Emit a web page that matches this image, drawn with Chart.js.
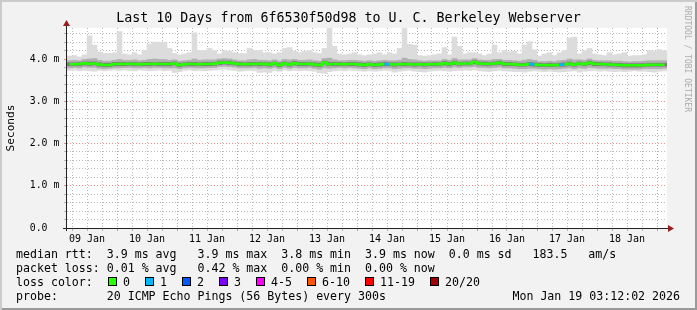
<!DOCTYPE html>
<html>
<head>
<meta charset="utf-8">
<script src="https://cdn.jsdelivr.net/npm/chart.js@4.4.1/dist/chart.umd.min.js"></script>
<style>
  html, body { margin: 0; padding: 0; background: #fff; }
  #graph { position: relative; width: 697px; height: 310px; background: #f2f2f2; overflow: hidden;
           box-shadow: inset 2px 2px 0 #cbcbcb, inset -2px -2px 0 #9a9a9a;
           font-family: 'DejaVu Sans Mono', monospace; color: #000; }
  #graph canvas { position: absolute; left: 0; top: 0; }
  .txt { position: absolute; white-space: pre; font-size: 11.6px; line-height: 14px; z-index: 2; }
  #title { left: 0; width: 697px; text-align: center; top: 10.4px; font-size: 13.3px; line-height: 16px; }
  #mark { left: 686.5px; top: 58.5px; font-size: 8px; line-height: 10px; color: #ababab;
          transform: translate(-50%, -50%) rotate(90deg); }
  .box { position: absolute; width: 9px; height: 9px; border: 1px solid #000; box-sizing: border-box; top: 277px; z-index: 2; }
</style>
</head>
<body>
<div id="graph">
  <canvas id="myChart" width="697" height="310"></canvas>
  <div class="txt" id="title">Last 10 Days from 6f6530f50d98 to U. C. Berkeley Webserver</div>
  <div class="txt" id="mark">RRDTOOL / TOBI OETIKER</div>
  <div class="txt" style="left:16px; top:246.6px">median rtt:  3.9 ms avg   3.9 ms max  3.8 ms min  3.9 ms now  0.0 ms sd   183.5   am/s</div>
  <div class="txt" style="left:16px; top:260.6px">packet loss: 0.01 % avg   0.42 % max  0.00 % min  0.00 % now</div>
  <div class="txt" style="left:16px; top:274.6px">loss color:</div>
  <div class="txt" style="left:16px; top:288.6px">probe:       20 ICMP Echo Pings (56 Bytes) every 300s</div>
  <div class="txt" style="right:17px; top:288.6px">Mon Jan 19 03:12:02 2026</div>
</div>
<script>
// 10 days, one bin every 2 hours (120 bins), values in ms
const binHours = 2;
const dayLabels = ['09 Jan', '10 Jan', '11 Jan', '12 Jan', '13 Jan', '14 Jan', '15 Jan', '16 Jan', '17 Jan', '18 Jan'];
const yTickValues = [0, 0.2, 0.4, 0.6, 0.8, 1, 1.2, 1.4, 1.6, 1.8, 2, 2.2, 2.4, 2.6, 2.8, 3, 3.2, 3.4, 3.6, 3.8, 4, 4.2, 4.4, 4.6];
const yMajorLabels = ['0.0  ', '1.0 m', '2.0 m', '3.0 m', '4.0 m'];

const lossLabels = ['0', '1', '2', '3', '4-5', '6-10', '11-19', '20/20'];
const lossColors = ['#26ff00', '#00b8ff', '#0059ff', '#7e00ff', '#ff00ff', '#ff5500', '#ff0000', '#a00000'];

const pingMax = [4.07,4.08,4.05,4.10,4.55,4.33,4.17,4.13,4.13,4.15,
    4.65,4.12,4.10,4.15,4.10,4.20,4.35,4.40,4.40,4.40,
    4.25,4.13,4.10,4.12,4.15,4.62,4.20,4.20,4.25,4.20,
    4.12,4.20,4.18,4.15,4.13,4.13,4.25,4.20,4.20,4.15,
    4.15,4.12,4.15,4.25,4.27,4.18,4.15,4.18,4.20,4.15,
    4.13,4.25,4.73,4.30,4.12,4.10,4.12,4.15,4.10,4.08,
    4.10,4.12,4.15,4.10,4.15,4.12,4.25,4.75,4.35,4.33,
    4.08,4.07,4.08,4.10,4.12,4.27,4.10,4.52,4.30,4.12,
    4.15,4.15,4.12,4.08,4.12,4.33,4.15,4.20,4.17,4.18,
    4.12,4.33,4.41,4.22,4.07,4.12,4.15,4.08,4.15,4.20,
    4.50,4.52,4.12,4.20,4.25,4.12,4.10,4.08,4.15,4.10,
    4.12,4.15,4.07,4.08,4.08,4.10,4.20,4.18,4.22,4.20];

const pingP80 = [3.96,3.97,3.96,3.99,4.00,4.01,3.97,3.95,3.95,3.97,
    3.99,3.97,3.97,3.98,3.96,3.97,3.99,4.00,3.99,3.99,
    3.97,3.98,3.95,3.96,3.97,4.00,3.97,3.98,3.98,3.98,
    4.00,4.01,4.00,3.98,3.96,3.96,3.98,3.99,3.97,3.97,
    3.96,3.98,3.95,3.99,3.98,3.99,3.97,3.97,3.98,3.96,
    3.95,4.01,4.02,3.98,3.96,3.96,3.97,3.97,3.96,3.95,
    3.96,3.95,3.96,3.97,3.96,3.96,3.97,4.02,3.99,3.98,
    3.96,3.95,3.96,3.96,3.96,3.99,3.97,4.01,3.98,3.98,
    3.98,4.01,3.98,3.97,3.97,3.99,3.99,3.97,3.97,3.96,
    3.95,3.97,3.99,3.97,3.94,3.94,3.95,3.94,3.96,3.97,
    4.00,3.98,3.98,3.97,4.00,3.97,3.96,3.96,3.96,3.95,
    3.95,3.94,3.93,3.94,3.94,3.95,3.96,3.96,3.96,3.96];

const pingP65 = [3.91,3.91,3.92,3.93,3.93,3.93,3.91,3.90,3.90,3.92,
    3.92,3.92,3.92,3.92,3.91,3.92,3.92,3.92,3.92,3.92,
    3.92,3.93,3.90,3.91,3.92,3.92,3.91,3.92,3.92,3.92,
    3.95,3.95,3.95,3.93,3.92,3.91,3.92,3.92,3.92,3.92,
    3.91,3.93,3.90,3.93,3.91,3.94,3.92,3.92,3.92,3.91,
    3.90,3.95,3.92,3.92,3.92,3.91,3.92,3.92,3.91,3.90,
    3.91,3.90,3.91,3.92,3.91,3.91,3.91,3.92,3.91,3.91,
    3.91,3.91,3.91,3.92,3.91,3.94,3.92,3.95,3.92,3.93,
    3.93,3.96,3.93,3.93,3.92,3.93,3.95,3.92,3.92,3.91,
    3.90,3.90,3.92,3.91,3.90,3.89,3.90,3.89,3.90,3.91,
    3.93,3.90,3.93,3.91,3.95,3.92,3.92,3.91,3.91,3.90,
    3.90,3.89,3.89,3.89,3.89,3.89,3.90,3.90,3.90,3.90];

const medianRtt = [3.875,3.875,3.88,3.90,3.89,3.895,3.87,3.86,3.86,3.88,
    3.88,3.88,3.885,3.88,3.875,3.88,3.88,3.885,3.88,3.88,
    3.88,3.895,3.86,3.875,3.88,3.88,3.875,3.88,3.88,3.885,
    3.91,3.92,3.91,3.895,3.88,3.875,3.88,3.885,3.88,3.885,
    3.87,3.90,3.86,3.895,3.87,3.90,3.88,3.88,3.885,3.87,
    3.86,3.92,3.875,3.88,3.88,3.875,3.88,3.88,3.87,3.86,
    3.875,3.86,3.87,3.88,3.875,3.87,3.875,3.88,3.875,3.87,
    3.875,3.87,3.875,3.88,3.875,3.90,3.88,3.91,3.885,3.895,
    3.895,3.93,3.895,3.89,3.885,3.895,3.91,3.88,3.88,3.875,
    3.865,3.865,3.88,3.87,3.86,3.855,3.86,3.855,3.865,3.87,
    3.89,3.865,3.895,3.875,3.91,3.88,3.88,3.875,3.87,3.865,
    3.86,3.85,3.85,3.85,3.85,3.855,3.865,3.865,3.865,3.865];

const pingP35 = [3.84,3.84,3.84,3.86,3.85,3.86,3.83,3.82,3.82,3.84,
    3.84,3.84,3.85,3.84,3.84,3.84,3.84,3.85,3.84,3.84,
    3.84,3.86,3.82,3.84,3.84,3.84,3.84,3.84,3.84,3.85,
    3.87,3.88,3.87,3.86,3.84,3.84,3.84,3.85,3.84,3.85,
    3.83,3.86,3.82,3.86,3.83,3.86,3.84,3.84,3.85,3.83,
    3.82,3.88,3.84,3.84,3.84,3.84,3.84,3.84,3.83,3.82,
    3.84,3.82,3.83,3.84,3.84,3.83,3.84,3.84,3.84,3.83,
    3.84,3.83,3.84,3.84,3.84,3.86,3.84,3.87,3.85,3.86,
    3.86,3.89,3.86,3.85,3.85,3.86,3.87,3.84,3.84,3.84,
    3.83,3.83,3.84,3.83,3.82,3.82,3.82,3.82,3.83,3.83,
    3.85,3.83,3.86,3.84,3.87,3.84,3.84,3.84,3.83,3.83,
    3.82,3.81,3.81,3.81,3.81,3.82,3.83,3.83,3.83,3.83];

const pingP20 = [3.79,3.80,3.79,3.81,3.80,3.80,3.78,3.77,3.78,3.79,
    3.79,3.80,3.80,3.79,3.79,3.80,3.79,3.80,3.80,3.79,
    3.79,3.79,3.77,3.79,3.80,3.79,3.79,3.79,3.80,3.80,
    3.82,3.83,3.82,3.81,3.79,3.79,3.79,3.80,3.78,3.79,
    3.78,3.80,3.77,3.80,3.78,3.80,3.79,3.79,3.80,3.78,
    3.76,3.79,3.78,3.79,3.80,3.79,3.80,3.79,3.78,3.77,
    3.79,3.77,3.78,3.79,3.79,3.77,3.78,3.79,3.79,3.78,
    3.78,3.77,3.78,3.79,3.79,3.80,3.79,3.81,3.80,3.81,
    3.81,3.82,3.80,3.80,3.79,3.80,3.81,3.79,3.79,3.78,
    3.77,3.77,3.78,3.78,3.77,3.76,3.77,3.76,3.77,3.78,
    3.79,3.77,3.79,3.78,3.80,3.79,3.78,3.78,3.78,3.77,
    3.77,3.76,3.76,3.76,3.76,3.77,3.77,3.77,3.77,3.78];

const pingMin = [3.73,3.74,3.72,3.73,3.72,3.71,3.73,3.72,3.73,3.74,
    3.73,3.74,3.73,3.72,3.74,3.73,3.72,3.73,3.74,3.72,
    3.73,3.68,3.70,3.73,3.74,3.72,3.73,3.72,3.73,3.74,
    3.75,3.76,3.74,3.73,3.71,3.72,3.73,3.72,3.68,3.69,
    3.68,3.72,3.71,3.74,3.72,3.73,3.72,3.73,3.72,3.71,
    3.67,3.66,3.70,3.72,3.73,3.72,3.74,3.73,3.72,3.71,
    3.72,3.71,3.72,3.73,3.72,3.69,3.71,3.72,3.73,3.71,
    3.70,3.69,3.71,3.72,3.73,3.72,3.71,3.72,3.73,3.74,
    3.73,3.74,3.72,3.71,3.70,3.72,3.73,3.72,3.71,3.70,
    3.70,3.69,3.71,3.72,3.71,3.70,3.71,3.70,3.69,3.70,
    3.71,3.72,3.69,3.71,3.72,3.73,3.71,3.72,3.71,3.70,
    3.71,3.70,3.71,3.72,3.71,3.71,3.70,3.69,3.71,3.72];

// lost pings (out of 20) per bin, mostly none
const lossCount = [0,0,0,0,0,0,0,0,0,0, 0,0,0,0,0,0,0,0,0,0,
    0,0,0,0,0,0,0,0,0,0, 0,0,0,0,0,0,0,0,0,0,
    0,0,0,0,0,0,0,0,0,0, 0,0,0,0,0,0,0,0,0,0,
    0,0,0,1,0,0,0,0,0,0, 0,0,0,0,0,0,0,0,0,0,
    0,0,0,0,0,0,0,0,0,0, 0,0,1,0,0,0,0,0,1,0,
    0,0,0,0,0,0,0,0,0,0, 0,0,0,0,0,0,0,0,0,0];

// legend box positions (px)
const lossBoxX = [108, 145, 182, 219, 256, 307, 365, 430];

const graph = document.getElementById('graph');
lossLabels.forEach(function(lbl, i) {
    var b = document.createElement('div');
    b.className = 'box';
    b.style.left = lossBoxX[i] + 'px';
    b.style.background = lossColors[i];
    graph.appendChild(b);
    var t = document.createElement('div');
    t.className = 'txt';
    t.style.left = (lossBoxX[i] + 15) + 'px';
    t.style.top = '274.6px';
    t.textContent = lbl;
    graph.appendChild(t);
});

function lossColorIndex(n) {
    if (n <= 3) return n;
    if (n <= 5) return 4;
    if (n <= 10) return 5;
    if (n <= 19) return 6;
    return 7;
}

function band(lo, hi) {
    return lo.map(function(v, i) { return {x: i * binHours + binHours / 2, y: [v, hi[i]]}; });
}

var xGridHours = [];
for (var h = 2; h < 240; h += 6) xGridHours.push(h);

const MONO = 'DejaVu Sans Mono';
const GRID_MINOR = 'rgba(140,140,140,0.6)';
const GRID_MAJOR = 'rgba(225,70,70,0.6)';

const rrdFrame = {
    id: 'rrdFrame',
    beforeDraw(chart) {
        const {ctx, chartArea: a} = chart;
        ctx.save();
        ctx.fillStyle = '#ffffff';
        ctx.fillRect(a.left, a.top, a.right - a.left, a.bottom - a.top);
        ctx.restore();
    },
    afterDatasetsDraw(chart) {
        const {ctx, chartArea: a} = chart;
        const ax = a.left - 0.5, ay = a.bottom + 0.5;
        ctx.save();
        ctx.strokeStyle = '#222222';
        ctx.lineWidth = 1;
        ctx.beginPath();
        ctx.moveTo(a.left - 4, ay); ctx.lineTo(a.right + 2, ay);
        ctx.moveTo(ax, a.bottom + 3); ctx.lineTo(ax, a.top - 2);
        ctx.stroke();
        ctx.fillStyle = '#961e1e';
        ctx.beginPath();
        ctx.moveTo(a.right + 1, ay - 3.5); ctx.lineTo(a.right + 7, ay); ctx.lineTo(a.right + 1, ay + 3.5);
        ctx.closePath(); ctx.fill();
        ctx.beginPath();
        ctx.moveTo(ax - 3.5, a.top - 2); ctx.lineTo(ax, a.top - 8); ctx.lineTo(ax + 3.5, a.top - 2);
        ctx.closePath(); ctx.fill();
        ctx.restore();
    }
};

const ctx = document.getElementById('myChart').getContext('2d');
const myChart = new Chart(ctx, {
    type: 'bar',
    data: {
        datasets: [
            {
                type: 'line',
                data: medianRtt.map(function(v, i) { return {x: i * binHours + binHours / 2, y: v}; }),
                borderColor: lossColors[0],
                borderWidth: 2.5,
                pointRadius: 0,
                stepped: 'middle',
                segment: {
                    borderColor: function(c) { return lossColors[lossColorIndex(lossCount[c.p0DataIndex])]; }
                }
            },
            { data: band(pingP35, pingP65), backgroundColor: '#7c7c7c', grouped: false, barPercentage: 1, categoryPercentage: 1 },
            { data: band(pingP20, pingP80), backgroundColor: '#b0b0b0', grouped: false, barPercentage: 1, categoryPercentage: 1 },
            { data: band(pingMin, pingMax), backgroundColor: '#dcdcdc', grouped: false, barPercentage: 1, categoryPercentage: 1 }
        ]
    },
    options: {
        responsive: false,
        animation: false,
        layout: { padding: { left: 0, top: 28, right: 30, bottom: 0 } },
        plugins: { legend: { display: false }, tooltip: { enabled: false }, title: { display: false } },
        scales: {
            x: {
                type: 'linear', min: 0, max: 240, offset: false,
                afterBuildTicks: function(a) { a.ticks = xGridHours.map(function(v) { return {value: v}; }); },
                afterFit: function(s) { s.height = 82; s.paddingLeft = 0; s.paddingRight = 0; },
                grid: {
                    offset: false, lineWidth: 1, tickLength: 3,
                    color: function(c) { return (c.tick.value - 20) % 24 === 0 ? GRID_MAJOR : GRID_MINOR; }
                },
                border: { display: false, dash: [1, 2] },
                ticks: {
                    autoSkip: false, maxRotation: 0, minRotation: 0, padding: 2, color: '#000',
                    font: { family: MONO, size: 10 },
                    callback: function(v) { return (v - 8) % 24 === 0 ? dayLabels[(v - 8) / 24] : ''; }
                }
            },
            y: {
                min: 0, max: 4.734,
                afterBuildTicks: function(a) { a.ticks = yTickValues.map(function(v) { return {value: v}; }); },
                afterFit: function(s) { s.width = 67; s.paddingTop = 0; s.paddingBottom = 0; },
                grid: {
                    lineWidth: 1, tickLength: 3,
                    color: function(c) { return Math.abs(c.tick.value - Math.round(c.tick.value)) < 1e-6 ? GRID_MAJOR : GRID_MINOR; }
                },
                border: { display: false, dash: [1, 2] },
                ticks: {
                    autoSkip: false, padding: 4.7, color: '#000',
                    font: { family: MONO, size: 9.8 },
                    callback: function(v) {
                        return Math.abs(v - Math.round(v)) < 1e-6 ? yMajorLabels[Math.round(v)] : '';
                    }
                },
                title: { display: true, text: 'Seconds', color: '#000', font: { family: MONO, size: 11.1 }, padding: { top: 4, bottom: 0 } }
            }
        }
    },
    plugins: [rrdFrame]
});
</script>
</body>
</html>
